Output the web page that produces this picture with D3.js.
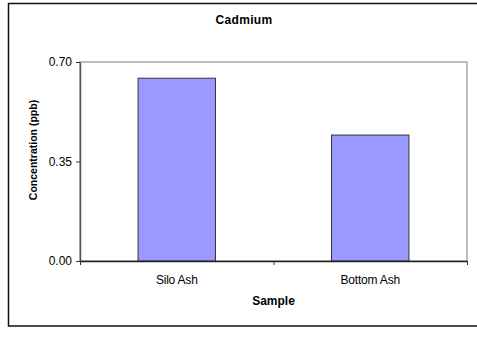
<!DOCTYPE html>
<html>
<head>
<meta charset="utf-8">
<script src="https://cdn.jsdelivr.net/npm/d3@7"></script>
<style>
  body { margin: 0; background: #fff; }
  text { font-family: Arial, "Liberation Sans", sans-serif; fill: #000; }
</style>
</head>
<body>
<svg width="477" height="342"></svg>
<script>
var samples = ["Silo Ash", "Bottom Ash"];
var cadmium = [0.643, 0.443];
var yTicks = [0.00, 0.35, 0.70];

var width = 477;
var height = 342;
var plotLeft = 80, plotRight = 467, plotTop = 62, plotBottom = 261;

var svg = d3.select("svg");

// outer chart frame (runs off the right edge like the original)
svg.append("rect")
    .attr("x", 8.5)
    .attr("y", 3.5)
    .attr("width", 480)
    .attr("height", 322.5)
    .attr("fill", "none")
    .attr("stroke", "#111")
    .attr("stroke-width", 1.5);

var xScale = d3.scaleBand()
                .domain(samples)
                .range([plotLeft, plotRight])
                .paddingInner(0.6)
                .paddingOuter(0.3);
var xEdges = d3.scaleLinear()
                .domain([0, samples.length])
                .range([plotLeft, plotRight]);
var yScale = d3.scaleLinear()
                .domain([0, 0.70])
                .range([plotBottom, plotTop]);

// plot area border
svg.append("rect")
    .attr("x", plotLeft)
    .attr("y", plotTop)
    .attr("width", plotRight - plotLeft)
    .attr("height", plotBottom - plotTop)
    .attr("fill", "none")
    .attr("stroke", "#999")
    .attr("stroke-width", 1.3);

svg.selectAll("rect.bar")
    .data(cadmium)
    .enter()
    .append("rect")
        .attr("class", "bar")
        .attr("x", (d, i) => xScale(samples[i]))
        .attr("y", d => yScale(d))
        .attr("width", xScale.bandwidth())
        .attr("height", d => plotBottom - yScale(d))
        .attr("fill", "#9999ff")
        .attr("stroke", "#333")
        .attr("stroke-width", 1);

var yAxis = d3.axisLeft(yScale)
                .tickValues(yTicks)
                .tickFormat(d3.format(".2f"))
                .tickSize(4)
                .tickSizeOuter(0);
var yG = svg.append("g")
    .attr("transform", "translate(" + plotLeft + ",0)")
    .call(yAxis);
yG.select(".domain").attr("stroke", "#555").attr("stroke-width", 1.5);
yG.selectAll(".tick line").attr("stroke", "#333");
yG.selectAll(".tick text")
    .attr("x", -8)
    .style("font-size", "12px")
    .style("font-family", "Arial, 'Liberation Sans', sans-serif")
    .attr("fill", "#000");

// boundary ticks between categories
var edgeAxis = d3.axisBottom(xEdges)
                .tickValues(d3.range(samples.length + 1))
                .tickFormat("")
                .tickSize(4)
                .tickSizeOuter(0);
var eG = svg.append("g")
    .attr("transform", "translate(0," + plotBottom + ")")
    .call(edgeAxis);
eG.select(".domain").attr("stroke", "#222").attr("stroke-width", 1.5);
eG.selectAll(".tick line").attr("stroke", "#333");

var xAxis = d3.axisBottom(xScale).tickSize(0).tickPadding(14);
var xG = svg.append("g")
    .attr("transform", "translate(0," + plotBottom + ")")
    .call(xAxis);
xG.select(".domain").remove();
xG.selectAll(".tick text")
    .style("font-size", "12px")
    .style("font-family", "Arial, 'Liberation Sans', sans-serif")
    .style("letter-spacing", "-0.2px")
    .attr("fill", "#000");

svg.append("text")
    .attr("x", 244)
    .attr("y", 24)
    .style("text-anchor", "middle")
    .style("font-size", "12px")
    .style("font-weight", "bold")
    .style("letter-spacing", "0.3px")
    .text("Cadmium");

svg.append("text")
    .attr("x", (plotLeft + plotRight) / 2)
    .attr("y", 305)
    .style("text-anchor", "middle")
    .style("font-size", "12px")
    .style("font-weight", "bold")
    .text("Sample");

svg.append("text")
    .attr("transform", "rotate(-90)")
    .attr("x", -150)
    .attr("y", 37)
    .style("text-anchor", "middle")
    .style("font-size", "10.5px")
    .style("font-weight", "bold")
    .text("Concentration (ppb)");
</script>
</body>
</html>
